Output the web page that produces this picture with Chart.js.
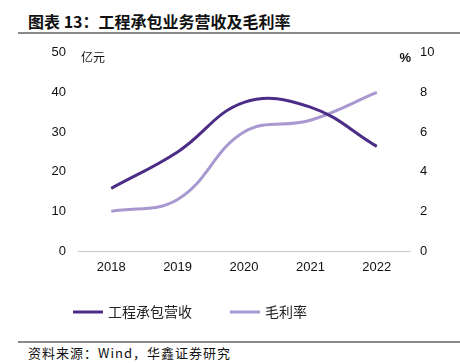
<!DOCTYPE html>
<html><head><meta charset="utf-8">
<script src="https://cdn.jsdelivr.net/npm/chart.js@4/dist/chart.umd.min.js"></script>
<style>
html,body{margin:0;padding:0;background:#fff;width:460px;height:364px;overflow:hidden;position:relative;font-family:"Noto Sans CJK SC",sans-serif;}
#title{position:absolute;left:28px;top:9px;font-size:16px;font-weight:bold;color:#111;letter-spacing:0px;white-space:nowrap;}
#tline{position:absolute;left:18px;right:0;top:32px;height:2px;background:#8a8a8a;}
#fline{position:absolute;left:18px;right:0;top:341px;height:2px;background:#8a8a8a;}
#foot{position:absolute;left:28px;top:343px;font-size:13px;color:#111;letter-spacing:1px;white-space:nowrap;}
#wrap{position:absolute;left:0;top:33px;width:460px;height:300px;}
</style></head><body>
<div id="title">图表 13：工程承包业务营收及毛利率</div>
<div id="tline"></div>
<div id="wrap"><canvas id="c"></canvas></div>
<div id="fline"></div>
<div id="foot">资料来源：Wind，华鑫证券研究</div>
<script>
const categories = ['2018','2019','2020','2021','2022'];
const revenue = [15.8, 25, 37.5, 36.3, 26.4];
const margin = [2.0, 2.6, 6.0, 6.6, 8.0];
const leftTicks = [0,10,20,30,40,50];
const rightTicks = [0,2,4,6,8,10];
const revenueName = '工程承包营收';
const marginName = '毛利率';
const leftUnit = '亿元';
const rightUnit = '%';

const darkColor = '#4b2d87';
const lightColor = '#a898d0';
const tickFont = {family:'"Liberation Sans", Arial, sans-serif', size:13};

const unitPlugin = {
  id:'units',
  afterDraw(chart){
    const {ctx, chartArea} = chart;
    ctx.save();
    ctx.fillStyle = '#111';
    ctx.font = '12px "Noto Sans CJK SC", sans-serif';
    ctx.textBaseline = 'middle';
    ctx.textAlign = 'left';
    ctx.fillText(leftUnit, chartArea.left + 3, chartArea.top + 5);
    ctx.font = 'bold 13px "Liberation Sans", Arial, sans-serif';
    ctx.textAlign = 'right';
    ctx.fillText(rightUnit, chartArea.right + 1, chartArea.top + 6);
    // legend
    const ly = 279;
    const starts = [73, 230];
    ctx.font = '14px "Noto Sans CJK SC", sans-serif';
    ctx.textAlign = 'left';
    chart.data.datasets.forEach((d,i)=>{
      const x = starts[i];
      ctx.fillStyle = d.borderColor;
      ctx.fillRect(x, ly - 1.5, 30, 3);
      ctx.fillStyle = '#222';
      ctx.fillText(d.label, x + 35, ly);
    });
    ctx.restore();
  }
};

new Chart(document.getElementById('c'), {
  type:'line',
  data:{
    labels:categories,
    datasets:[
      {label:revenueName, data:revenue, yAxisID:'y', borderColor:darkColor, backgroundColor:darkColor, borderWidth:3, pointRadius:0, tension:0.4},
      {label:marginName, data:margin, yAxisID:'y1', borderColor:lightColor, backgroundColor:lightColor, borderWidth:3, pointRadius:0, tension:0.4}
    ]
  },
  options:{
    responsive:true, maintainAspectRatio:false, animation:false,
    layout:{padding:{top:6,bottom:36,left:0,right:0}},
    plugins:{
      tooltip:{enabled:false},
      legend:{display:false}
    },
    scales:{
      x:{
        offset:true,
        grid:{display:false, drawTicks:false},
        border:{color:'#c8c8c8', width:1},
        ticks:{font:tickFont, color:'#111', padding:9, maxRotation:0},
        afterFit(s){ s.height = 46; }
      },
      y:{
        position:'left', min:0, max:50,
        afterBuildTicks(s){ s.ticks = leftTicks.map(v=>({value:v})); },
        grid:{display:false, drawTicks:false},
        border:{display:false},
        ticks:{font:tickFont, color:'#111', padding:12},
        afterFit(s){ s.width = 78; }
      },
      y1:{
        position:'right', min:0, max:10,
        afterBuildTicks(s){ s.ticks = rightTicks.map(v=>({value:v})); },
        grid:{display:false, drawTicks:false},
        border:{display:false},
        ticks:{font:tickFont, color:'#111', padding:10},
        afterFit(s){ s.width = 50; }
      }
    }
  },
  plugins:[unitPlugin]
});
</script>
</body></html>
